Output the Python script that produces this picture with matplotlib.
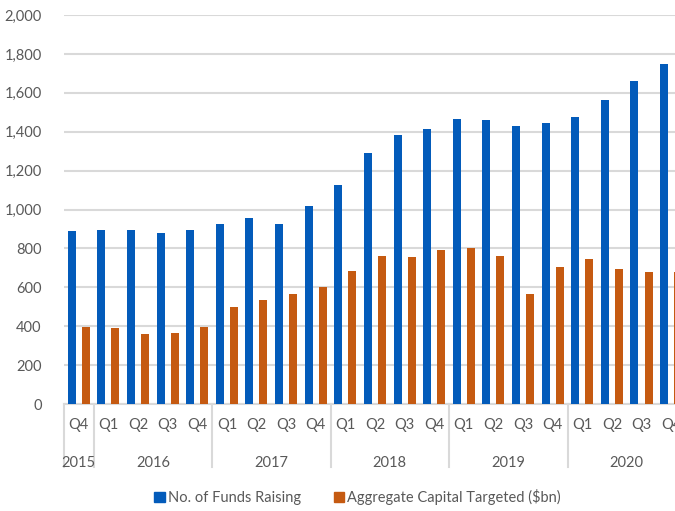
import matplotlib.pyplot as plt

# Data
quarters = ['Q4', 'Q1', 'Q2', 'Q3', 'Q4', 'Q1', 'Q2', 'Q3', 'Q4', 'Q1', 'Q2',
            'Q3', 'Q4', 'Q1', 'Q2', 'Q3', 'Q4', 'Q1', 'Q2', 'Q3', 'Q4']
years = ['2015', '2016', '2017', '2018', '2019', '2020']
year_counts = [1, 4, 4, 4, 4, 4]
funds_raising = [887, 894, 894, 879, 894, 928, 957, 928, 1017, 1125, 1288,
                 1385, 1414, 1464, 1459, 1428, 1446, 1475, 1561, 1663, 1747]
capital_targeted = [398, 393, 362, 367, 398, 501, 535, 566, 604, 683, 762,
                    757, 791, 802, 762, 566, 703, 745, 692, 677, 677]

blue = '#035BBA'
orange = '#C55A11'
grid_col = '#D9D9D9'
text_col = '#595959'
fs = 10.5

plt.rcParams['font.family'] = ['Lato', 'DejaVu Sans']

fig = plt.figure(figsize=(6.75, 5.11), dpi=100)
# axes runs past the right edge, like the cropped original
ax = fig.add_axes([64 / 675, 107 / 511, 622 / 675, 389 / 511])

x = list(range(len(quarters)))
w = 0.27
ax.bar([i - 0.24 for i in x], funds_raising, width=w, color=blue, zorder=3)
ax.bar([i + 0.235 for i in x], capital_targeted, width=w, color=orange, zorder=3)

ax.set_xlim(-0.5, len(quarters) - 0.5)
ax.set_ylim(0, 2000)
ax.set_yticks(range(0, 2001, 200))
ax.set_yticklabels([f'{v:,}' for v in range(0, 2001, 200)])
ax.tick_params(axis='y', length=0, pad=16, labelsize=fs, labelcolor=text_col)
ax.set_xticks([])
ax.grid(axis='y', color=grid_col, lw=1.5, zorder=0)

for s in ['top', 'right', 'left']:
    ax.spines[s].set_visible(False)
ax.spines['bottom'].set_color(grid_col)
ax.spines['bottom'].set_linewidth(1.5)

tr = ax.get_xaxis_transform()

# quarter labels
for i, q in enumerate(quarters):
    ax.text(i, -0.054, q, transform=tr, ha='center', va='center',
            fontsize=fs, color=text_col, clip_on=False)

# year labels and separators
start = 0
for yr, n in zip(years, year_counts):
    left = start - 0.5
    ax.plot([left, left], [0, -0.162], transform=tr, color=grid_col, lw=1.5,
            clip_on=False)
    ax.text(left + n / 2, -0.152, yr, transform=tr, ha='center', va='center',
            fontsize=fs, color=text_col, clip_on=False)
    start += n

# legend
handles = [plt.Rectangle((0, 0), 1, 1, color=blue),
           plt.Rectangle((0, 0), 1, 1, color=orange)]
fig.legend(handles, ['No. of Funds Raising', 'Aggregate Capital Targeted ($bn)'],
           loc='center', bbox_to_anchor=(0.530, 1 - 497 / 511), ncol=2,
           frameon=False, handlelength=0.7, handleheight=0.7, handletextpad=0.2,
           columnspacing=2.3, labelcolor=text_col, fontsize=fs)

fig.savefig('out.png', dpi=100)
